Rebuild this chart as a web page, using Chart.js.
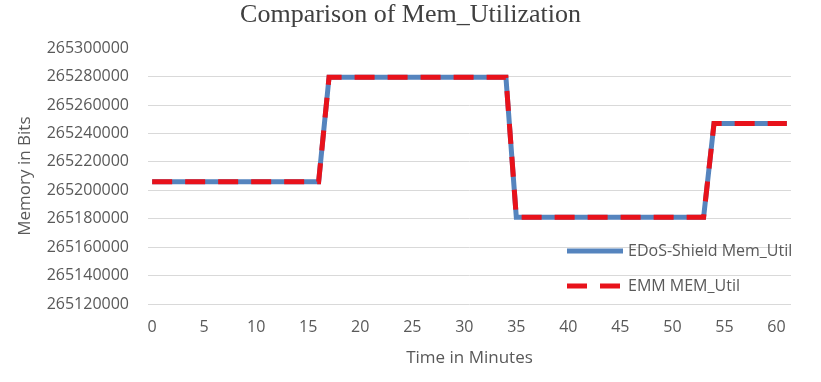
<!DOCTYPE html>
<html>
<head>
<meta charset="utf-8">
<script src="https://cdn.jsdelivr.net/npm/chart.js@4.4.1/dist/chart.umd.min.js"></script>
<style>
  html, body { margin: 0; padding: 0; background: #fff; }
  #wrap { width: 821px; height: 382px; }
</style>
</head>
<body>
<div id="wrap"><canvas id="memChart" width="821" height="382"></canvas></div>
<script>
// --- Data ---
const minutes = [0, 16, 17, 34, 35, 53, 54, 61];
const edosMemUtil = [265206000, 265206000, 265279500, 265279500, 265181000, 265181000, 265247000, 265247000];
const emmMemUtil = [265206000, 265206000, 265279500, 265279500, 265181000, 265181000, 265247000, 265247000];
const seriesNames = ['EDoS-Shield Mem_Util', 'EMM MEM_Util'];
const xTicks = [0, 5, 10, 15, 20, 25, 30, 35, 40, 45, 50, 55, 60];
const yTicks = [265120000, 265140000, 265160000, 265180000, 265200000, 265220000, 265240000, 265260000, 265280000, 265300000];

const BLUE = '#5584be';
const RED = '#e8121b';
const TEXT = '#595959';
const SANS = '"Open Sans", "Noto Sans", sans-serif';

const toPoints = (xs, ys) => xs.map((x, i) => ({ x: x, y: ys[i] }));

// legend drawn inside the plot area, lower right
const insideLegend = {
    id: 'insideLegend',
    afterDraw(chart) {
        const ctx = chart.ctx;
        const area = chart.chartArea;
        const x0 = area.right - 224;
        const rows = [area.bottom - 53, area.bottom - 18];
        ctx.save();
        ctx.font = '16px ' + SANS;
        ctx.textBaseline = 'middle';
        ctx.fillStyle = TEXT;
        chart.data.datasets.forEach((ds, i) => {
            const y = rows[i];
            ctx.beginPath();
            ctx.strokeStyle = ds.borderColor;
            ctx.lineWidth = ds.borderWidth;
            ctx.setLineDash(ds.borderDash || []);
            ctx.moveTo(x0, y);
            ctx.lineTo(x0 + 56, y);
            ctx.stroke();
            ctx.setLineDash([]);
            ctx.fillText(ds.label, x0 + 61, y);
        });
        ctx.restore();
    }
};

new Chart(document.getElementById('memChart'), {
    type: 'line',
    data: {
        datasets: [
            {
                label: seriesNames[0],
                data: toPoints(minutes, edosMemUtil),
                borderColor: BLUE,
                borderWidth: 5,
                pointRadius: 0,
                tension: 0,
                order: 2
            },
            {
                label: seriesNames[1],
                data: toPoints(minutes, emmMemUtil),
                borderColor: RED,
                borderWidth: 5,
                borderDash: [20, 13],
                pointRadius: 0,
                tension: 0,
                order: 1
            }
        ]
    },
    options: {
        responsive: false,
        animation: false,
        layout: { padding: 0 },
        plugins: {
            legend: { display: false },
            tooltip: { enabled: false },
            title: {
                display: true,
                text: 'Comparison of Mem_Utilization',
                color: '#404040',
                font: { family: '"Liberation Serif", "Times New Roman", serif', size: 26, weight: 'normal' },
                padding: { top: 0, bottom: 17 }
            }
        },
        scales: {
            x: {
                type: 'linear',
                min: -0.4,
                max: 61.4,
                afterBuildTicks: (scale) => { scale.ticks = xTicks.map(v => ({ value: v })); },
                afterFit: (scale) => { scale.height = 78; },
                grid: { display: false, drawTicks: false },
                border: { display: false },
                ticks: { color: TEXT, font: { family: SANS, size: 16 }, padding: 14, maxRotation: 0 },
                title: {
                    display: true,
                    text: 'Time in Minutes',
                    color: TEXT,
                    font: { family: SANS, size: 17 },
                    padding: { top: 0, bottom: 14 }
                }
            },
            y: {
                min: yTicks[0],
                max: yTicks[yTicks.length - 1],
                afterBuildTicks: (scale) => { scale.ticks = yTicks.map(v => ({ value: v })); },
                afterFit: (scale) => { scale.width = 148; },
                grid: {
                    drawTicks: false,
                    color: (c) => (c.tick && c.tick.value === yTicks[yTicks.length - 1]) ? 'rgba(0,0,0,0)' : '#d9d9d9',
                    lineWidth: 1
                },
                border: { display: false },
                ticks: {
                    color: TEXT,
                    font: { family: SANS, size: 16 },
                    padding: 19,
                    callback: (v) => String(v)
                },
                title: {
                    display: true,
                    text: 'Memory in Bits',
                    color: TEXT,
                    font: { family: SANS, size: 17 },
                    padding: { top: 15, bottom: 0 }
                }
            },
            // empty right-hand gutter so the title stays centred on the whole canvas
            yRight: {
                position: 'right',
                min: yTicks[0],
                max: yTicks[yTicks.length - 1],
                afterFit: (scale) => { scale.width = 30; },
                grid: { display: false, drawTicks: false },
                border: { display: false },
                ticks: { display: false }
            }
        }
    },
    plugins: [insideLegend]
});
</script>
</body>
</html>
